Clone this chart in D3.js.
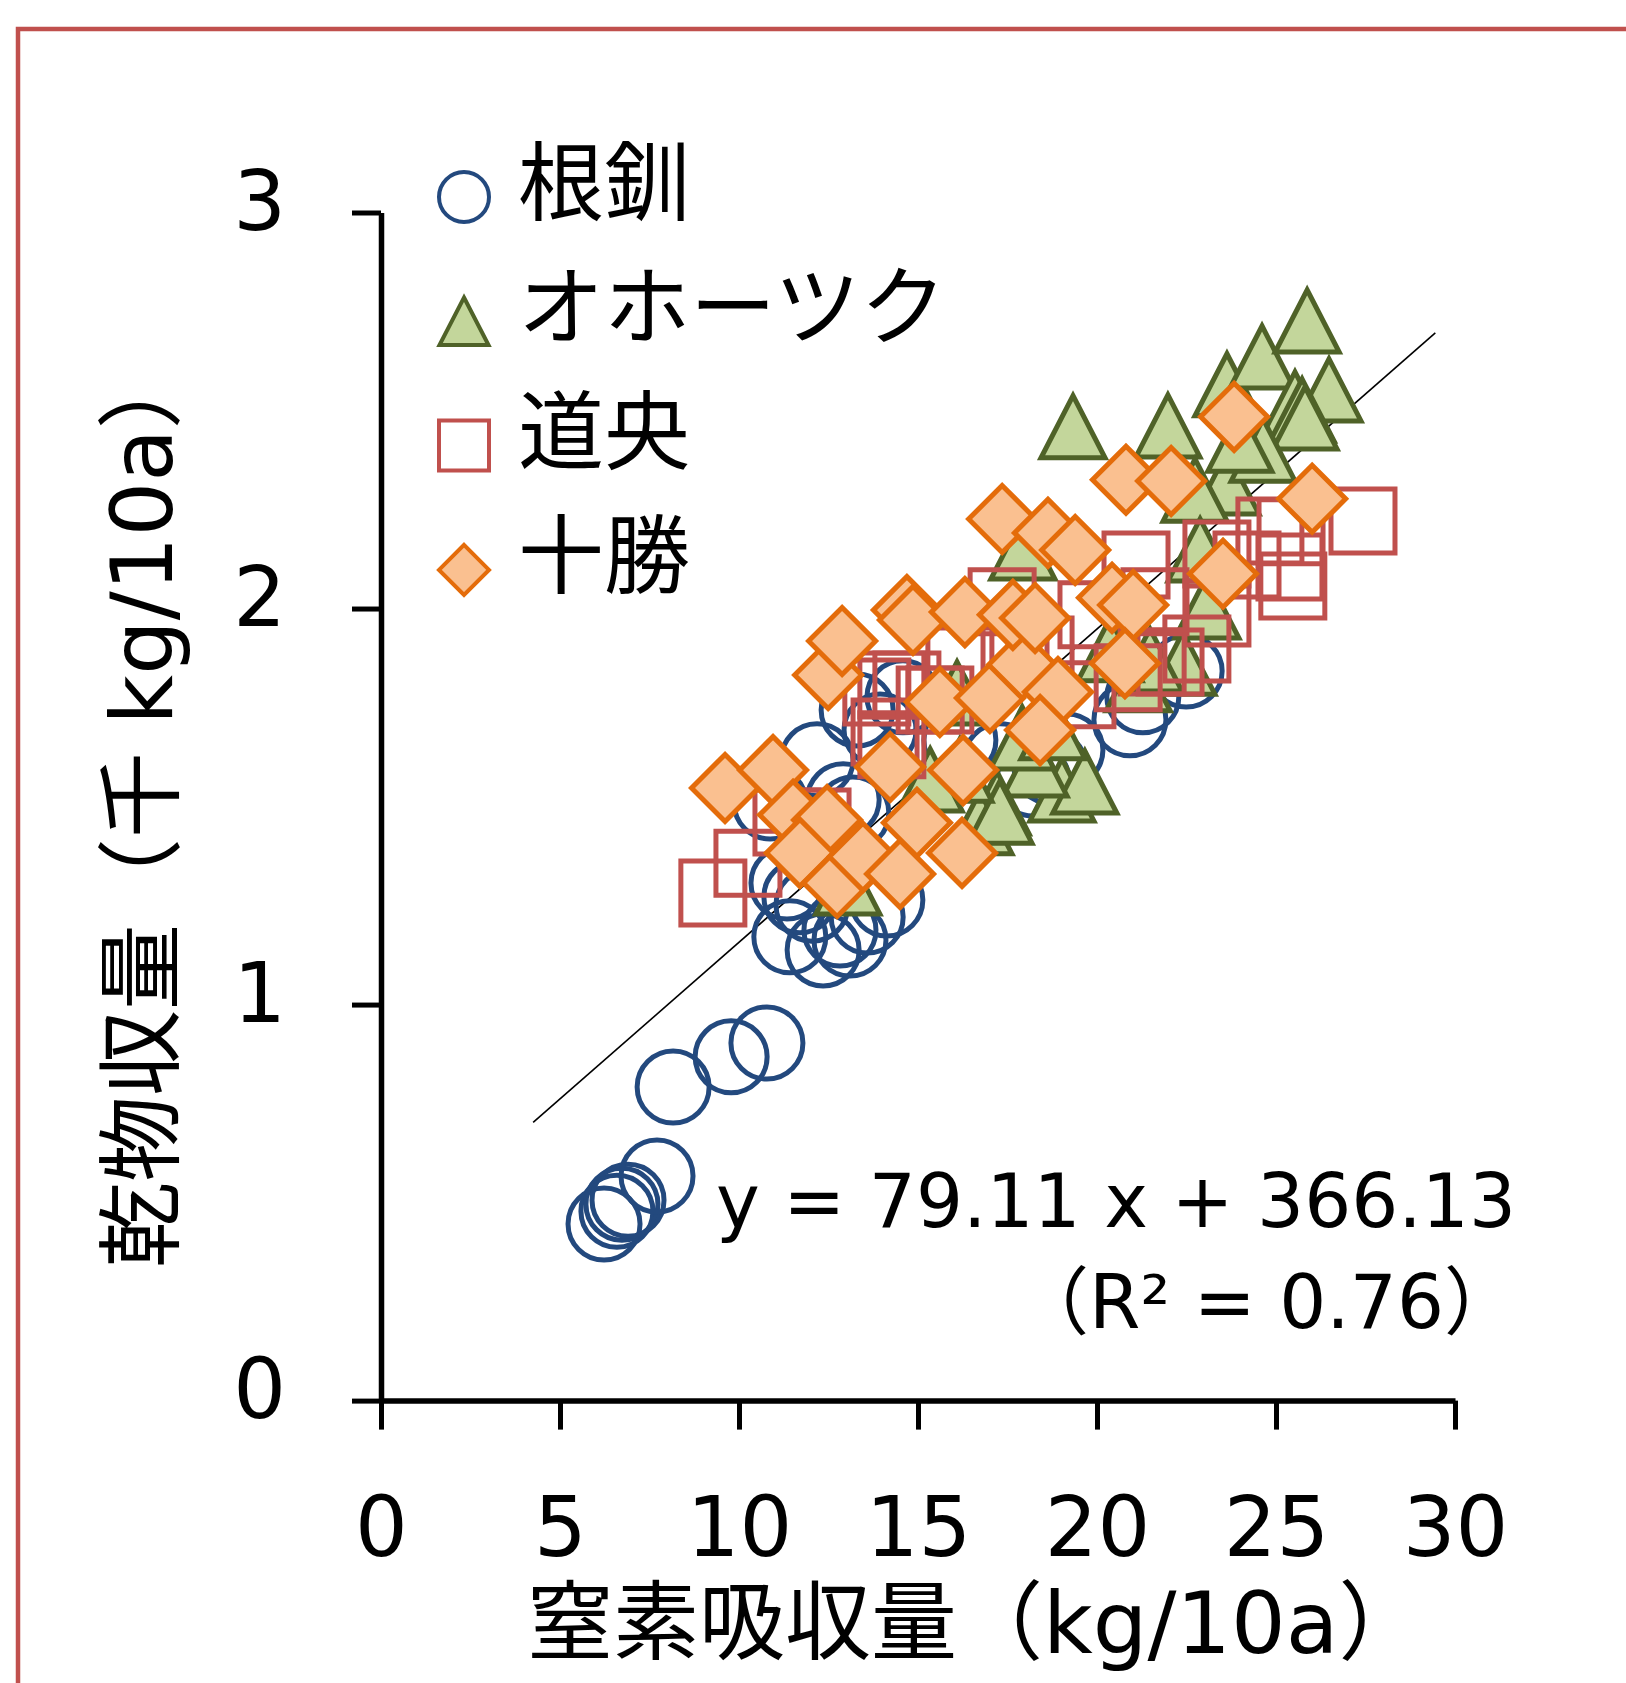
<!DOCTYPE html>
<html>
<head>
<meta charset="utf-8">
<script src="https://cdn.jsdelivr.net/npm/d3@7"></script>
<style>
  body { margin: 0; background: #fff; }
  text { font-family: "DejaVu Sans", "Noto Sans CJK JP", sans-serif; fill: #000; }
</style>
</head>
<body>
<div id="scatter"></div>
<script>
// data (x: 窒素吸収量 kg/10a, y: 乾物収量 千kg/10a)
var nemuroX = [6.23,6.59,6.73,6.90,7.71,8.16,9.78,10.78,11.42,12.35,12.82,13.58,14.13,11.70,11.34,12.04,13.10,10.87,12.18,12.91,13.30,14.58,13.94,13.18,18.21,18.69,19.16,20.92,21.28,22.49,17.29,16.17];
var nemuroY = [0.446,0.478,0.496,0.506,0.567,0.792,0.868,0.903,1.171,1.138,1.188,1.221,1.264,1.272,1.307,1.251,1.163,1.509,1.618,1.517,1.744,1.777,1.693,1.484,1.567,1.600,1.643,1.719,1.777,1.842,1.618,1.668];

var okhotskX = [19.33,21.98,23.63,24.61,25.87,26.48,25.53,25.73,25.81,23.63,22.74,24.64,23.07,22.88,22.40,17.93,21.15,19.02,19.66,18.27,17.91,18.77,17.21,16.73,17.29,13.04,16.09,16.17,21.48,15.34,20.36,23.99];
var okhotskY = [2.459,2.461,2.565,2.635,2.726,2.552,2.519,2.501,2.481,2.317,2.299,2.400,2.004,2.148,1.862,2.153,1.820,1.542,1.562,1.605,1.673,1.699,1.509,1.459,1.486,1.307,1.787,1.592,1.870,1.567,1.896,2.425];

var doohX = [9.27,10.25,11.34,12.18,13.85,14.27,14.69,14.27,14.08,15.61,17.35,17.71,18.41,19.86,19.58,20.87,21.54,21.09,21.62,23.35,23.35,22.79,22.04,24.19,24.83,25.42,25.39,25.47,27.43,16.17,15.34];
var doohY = [1.282,1.357,1.461,1.461,1.789,1.656,1.807,1.807,1.688,1.769,2.017,1.921,1.895,1.984,1.782,1.825,1.865,2.110,2.017,2.138,1.989,1.898,1.865,2.110,2.196,2.194,2.105,2.057,2.221,1.870,1.769];

var tokachiX = [9.61,10.95,12.49,12.88,11.51,12.46,11.70,12.74,13.46,14.50,14.97,16.23,14.22,15.61,16.26,17.01,17.91,18.91,18.41,14.69,14.86,16.31,17.65,18.27,17.35,18.63,19.39,20.42,21.01,20.78,20.81,22.07,23.83,23.52,26.01];
var tokachiY = [1.547,1.592,1.832,1.918,1.479,1.466,1.383,1.307,1.373,1.330,1.459,1.383,1.600,1.764,1.592,1.774,1.858,1.789,1.693,1.996,1.971,1.991,1.984,1.976,2.226,2.191,2.148,2.027,2.009,1.862,2.325,2.322,2.484,2.088,2.277];

var seriesNames = ["根釧", "オホーツク", "道央", "十勝"];
var xTicks = [0, 5, 10, 15, 20, 25, 30];
var yTicks = [0, 1, 2, 3];
// trendline y = 79.11 x + 366.13 (kg), drawn over the data range
var trendSlope = 79.11, trendIntercept = 366.13;
var trendX = [4.25, 29.45];

var width = 1626,
    height = 1683;

var svg = d3.select("#scatter").append("svg")
    .attr("width", width)
    .attr("height", height);

svg.append("rect")
    .attr("width", width)
    .attr("height", height)
    .attr("fill", "white");

// red frame (only left and top edges are inside the picture)
svg.append("path")
    .attr("d", "M18," + height + " V29 H" + width)
    .attr("fill", "none")
    .attr("stroke", "#C0504D")
    .attr("stroke-width", 4.5);

var x = d3.scaleLinear().domain([0, 30]).range([381, 1455]);
var y = d3.scaleLinear().domain([0, 3]).range([1400.6, 212.5]);

// axes
var xAxis = svg.append("g")
    .attr("transform", "translate(0," + y(0) + ")")
    .call(d3.axisBottom(x).tickValues(xTicks).tickFormat(d3.format("d")).tickSize(29).tickSizeOuter(0));
var yAxis = svg.append("g")
    .attr("transform", "translate(" + x(0) + ",0)")
    .call(d3.axisLeft(y).tickValues(yTicks).tickFormat(d3.format("d")).tickSize(29).tickSizeOuter(0));

[xAxis, yAxis].forEach(function(ax){
  ax.select(".domain").attr("stroke", "#000").attr("stroke-width", 5.5);
  ax.selectAll(".tick line").attr("stroke", "#000").attr("stroke-width", 5);
  ax.selectAll("text")
    .style("font-family", '"DejaVu Sans", sans-serif')
    .style("font-size", "83px")
    .attr("fill", "#000");
});
xAxis.selectAll("text").attr("y", 155).attr("dy", 0);
yAxis.selectAll("text").attr("x", -95).attr("dy", 17);

// trendline
var line = d3.line()
    .x(function(d){ return x(d); })
    .y(function(d){ return y((trendSlope * d + trendIntercept) / 1000); });
svg.append("path")
    .datum(trendX)
    .attr("d", line)
    .attr("fill", "none")
    .attr("stroke", "#000")
    .attr("stroke-width", 1.6);

// marker shapes
function triPath(s){ var w = s, h = s * 0.97; return "M0," + (-h/2) + "L" + (w/2) + "," + (h/2) + "L" + (-w/2) + "," + (h/2) + "Z"; }
function sqPath(s){ return "M" + (-s/2) + "," + (-s/2) + "h" + s + "v" + s + "h" + (-s) + "Z"; }
function diaPath(s){ var r = s/2; return "M0," + (-r) + "L" + r + ",0L0," + r + "L" + (-r) + ",0Z"; }
function circPath(s){ var r = s/2; return "M" + r + ",0A" + r + "," + r + " 0 1,1 " + (-r) + ",0A" + r + "," + r + " 0 1,1 " + r + ",0Z"; }

var styles = [
  {shape: circPath, size: 72, fill: "none", stroke: "#23497E"},
  {shape: triPath, size: 64, fill: "#C3D69B", stroke: "#4F6228"},
  {shape: sqPath, size: 64, fill: "none", stroke: "#C0504D"},
  {shape: diaPath, size: 67, fill: "#FAC090", stroke: "#E46C0A"}
];
var seriesData = [
  d3.zip(nemuroX, nemuroY),
  d3.zip(okhotskX, okhotskY),
  d3.zip(doohX, doohY),
  d3.zip(tokachiX, tokachiY)
];

seriesData.forEach(function(pts, i){
  var st = styles[i];
  svg.append("g").selectAll("path")
    .data(pts)
    .enter().append("path")
    .attr("d", st.shape(st.size))
    .attr("transform", function(d){ return "translate(" + x(d[0]) + "," + y(d[1]) + ")"; })
    .attr("fill", st.fill)
    .attr("stroke", st.stroke)
    .attr("stroke-width", 5)
    .attr("stroke-linejoin", "miter");
});

// legend
var legend = svg.append("g");
var legendSizes = [50, 49, 50, 50];
seriesNames.forEach(function(name, i){
  var ly = 197 + i * 124.3;
  var st = styles[i];
  legend.append("path")
    .attr("d", st.shape(legendSizes[i]))
    .attr("transform", "translate(464," + ly + ")")
    .attr("fill", st.fill)
    .attr("stroke", st.stroke)
    .attr("stroke-width", 4);
  legend.append("text")
    .attr("x", 518)
    .attr("y", ly + 17)
    .style("font-size", "86px")
    .text(name);
});

// regression equation
svg.append("text")
    .attr("x", 716)
    .attr("y", 1227)
    .style("font-size", "74px")
    .text("y = 79.11 x + 366.13");
svg.append("text")
    .attr("x", 1518)
    .attr("y", 1328)
    .attr("text-anchor", "end")
    .style("font-size", "74px")
    .text("（R² = 0.76）");

// axis titles
svg.append("text")
    .attr("x", 527)
    .attr("y", 1653)
    .style("font-size", "86px")
    .text("窒素吸収量（kg/10a）");

svg.append("text")
    .attr("transform", "translate(172,1268) rotate(-90)")
    .style("font-size", "86px")
    .text("乾物収量（千 kg/10a）");
</script>
</body>
</html>
